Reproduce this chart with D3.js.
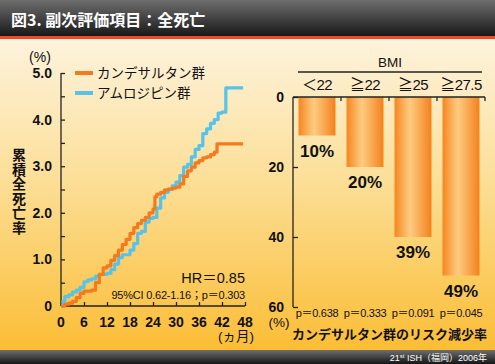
<!DOCTYPE html>
<html>
<head>
<meta charset="utf-8">
<script src="https://cdn.jsdelivr.net/npm/d3@7"></script>
<style>
  body { margin: 0; background: #fff; }
  svg { display: block; }
  text { font-family: "Liberation Sans", "Noto Sans CJK JP", sans-serif; fill: #111; }
</style>
</head>
<body>
<div id="chart"></div>
<script>
// cumulative all-cause death (%) by month
var candeMonths = [0, 1, 2, 3, 4, 5, 6, 8, 9, 10, 11, 12, 13, 14, 15, 16, 17, 18, 19, 20, 21, 22, 23, 24, 24.5, 25, 26, 27, 28, 29, 30, 31, 32, 33, 34, 35, 36, 37, 38, 39, 40, 40.7, 47.5];
var candeRate = [0, 0.04, 0.06, 0.1, 0.18, 0.27, 0.32, 0.34, 0.5, 0.68, 0.82, 0.86, 0.98, 1.08, 1.2, 1.32, 1.43, 1.56, 1.68, 1.77, 1.84, 1.9, 2.0, 2.08, 2.34, 2.4, 2.44, 2.49, 2.51, 2.53, 2.55, 2.62, 2.78, 2.9, 2.98, 3.07, 3.12, 3.18, 3.2, 3.25, 3.3, 3.48, 3.48];
var amloMonths = [0, 0.5, 1, 2, 3, 4, 5, 6, 7, 8, 9, 10, 11, 12, 13, 14, 15, 16, 17, 18, 19, 20, 21, 22, 23, 24, 25, 26, 27, 28, 29, 30, 31, 32, 33, 34, 35, 36, 37, 38, 39, 40, 41, 42, 43, 47.5];
var amloRate = [0, 0.1, 0.2, 0.24, 0.3, 0.34, 0.4, 0.52, 0.56, 0.58, 0.64, 0.68, 0.68, 0.7, 0.78, 0.9, 1.04, 1.1, 1.1, 1.2, 1.34, 1.56, 1.6, 1.8, 1.88, 1.9, 2.1, 2.32, 2.44, 2.5, 2.58, 2.66, 2.8, 2.98, 3.04, 3.2, 3.36, 3.44, 3.7, 3.8, 3.92, 4.0, 4.14, 4.16, 4.68, 4.68];
var seriesNames = ["カンデサルタン群", "アムロジピン群"];
var monthTicks = [0, 6, 12, 18, 24, 30, 36, 42, 48];
var rateTicks = [0, 1, 2, 3, 4, 5];

// risk reduction by BMI
var bmiGroups = ["＜22", "≧22", "≧25", "≧27.5"];
var reduction = [11, 20, 40, 51];
var reductionLabels = ["10%", "20%", "39%", "49%"];
var pValues = ["p＝0.638", "p＝0.333", "p＝0.091", "p＝0.045"];
var reductionTicks = [0, 20, 40, 60];

var W = 495, H = 364;
var svg = d3.select("#chart").append("svg").attr("width", W).attr("height", H);
var defs = svg.append("defs");

var bg = defs.append("linearGradient").attr("id", "bg").attr("x1", 0).attr("y1", 0).attr("x2", 0).attr("y2", 1);
bg.append("stop").attr("offset", "0%").attr("stop-color", "#fdf3dd");
bg.append("stop").attr("offset", "45%").attr("stop-color", "#fcdf98");
bg.append("stop").attr("offset", "100%").attr("stop-color", "#fbbd35");

var hd = defs.append("linearGradient").attr("id", "hd").attr("x1", 0).attr("y1", 0).attr("x2", 0).attr("y2", 1);
hd.append("stop").attr("offset", "0%").attr("stop-color", "#6e6e6e");
hd.append("stop").attr("offset", "100%").attr("stop-color", "#161616");

var bar = defs.append("linearGradient").attr("id", "bar").attr("x1", 0).attr("y1", 0).attr("x2", 1).attr("y2", 0);
bar.append("stop").attr("offset", "0%").attr("stop-color", "#f6861f");
bar.append("stop").attr("offset", "42%").attr("stop-color", "#fccc82");
bar.append("stop").attr("offset", "100%").attr("stop-color", "#f5811a");

// background, header, footer
svg.append("rect").attr("x", 0).attr("y", 38).attr("width", W).attr("height", 312).attr("fill", "url(#bg)");
svg.append("rect").attr("x", 0).attr("y", 0).attr("width", W).attr("height", 37).attr("fill", "url(#hd)");
svg.append("rect").attr("x", 0).attr("y", 36).attr("width", W).attr("height", 3).attr("fill", "#f04a25");
svg.append("rect").attr("x", 0).attr("y", 350).attr("width", W).attr("height", 14).attr("fill", "url(#hd)");

svg.append("text").attr("x", 11).attr("y", 26)
    .style("fill", "#fff").style("font-size", "16px").style("font-weight", "bold")
    .style("font-family", "'Noto Sans CJK JP', sans-serif")
    .text("図3. 副次評価項目：全死亡");

var foot = svg.append("text").attr("x", 487).attr("y", 361).attr("text-anchor", "end")
    .style("fill", "#fff").style("font-size", "9px");
foot.append("tspan").text("21");
foot.append("tspan").attr("dy", -3).style("font-size", "6px").text("st");
foot.append("tspan").attr("dy", 3).text(" ISH（福岡）2006年");

// ---- left: cumulative death line chart
var x = d3.scaleLinear().domain([0, 48]).range([61, 245]);
var y = d3.scaleLinear().domain([0, 5]).range([306, 73]);

var left = svg.append("g");

left.append("g")
    .attr("transform", "translate(61,0)")
    .call(d3.axisRight(y).tickValues(d3.range(0, 5.01, 0.5)).tickSize(4).tickFormat(""))
    .call(function(g) { g.select(".domain").attr("d", "M0,73V306"); })
    .selectAll("line,path").attr("stroke", "#222").attr("stroke-width", 1.3);

left.append("g")
    .attr("transform", "translate(0,306)")
    .call(d3.axisTop(x).tickValues(monthTicks).tickSize(4).tickFormat(""))
    .call(function(g) { g.select(".domain").attr("d", "M61,0H245"); })
    .selectAll("line,path").attr("stroke", "#222").attr("stroke-width", 1.3);

left.selectAll(".ylab").data(rateTicks).enter().append("text")
    .attr("x", 52).attr("y", function(d) { return y(d) + 5; })
    .attr("text-anchor", "end")
    .style("font-size", "14px").style("font-weight", "bold")
    .text(function(d) { return d === 0 ? "0" : d3.format(".1f")(d); });

left.selectAll(".xlab").data(monthTicks).enter().append("text")
    .attr("x", function(d) { return x(d); }).attr("y", 327)
    .attr("text-anchor", "middle")
    .style("font-size", "14px").style("font-weight", "bold")
    .text(function(d) { return d; });

left.append("text").attr("x", 40).attr("y", 62).attr("text-anchor", "middle")
    .style("font-size", "14px").text("(%)");
left.append("text").attr("x", 236).attr("y", 341).attr("text-anchor", "middle")
    .style("font-size", "13.5px").text("(ヵ月)");

left.selectAll(".ytitle").data("累積全死亡率".split("")).enter().append("text")
    .attr("x", 19).attr("y", function(d, i) { return 160 + i * 14.5; })
    .attr("text-anchor", "middle")
    .style("font-size", "14px").style("font-weight", "bold")
    .text(function(d) { return d; });

var line = d3.line()
    .x(function(d) { return x(d[0]); })
    .y(function(d) { return y(d[1]); })
    .curve(d3.curveStepAfter);

var colors = ["#f47a20", "#55c3ea"];
var series = [d3.zip(amloMonths, amloRate), d3.zip(candeMonths, candeRate)];
left.selectAll(".curve").data(series).enter().append("path")
    .attr("d", line)
    .attr("fill", "none")
    .attr("stroke", function(d, i) { return i === 0 ? colors[1] : colors[0]; })
    .attr("stroke-width", 3.2)
    .attr("stroke-linejoin", "round");

seriesNames.forEach(function(name, i) {
    var ly = 73 + i * 20;
    left.append("line").attr("x1", 75).attr("x2", 93).attr("y1", ly).attr("y2", ly)
        .attr("stroke", colors[i]).attr("stroke-width", 4);
    left.append("text").attr("x", 97).attr("y", ly + 5)
        .style("font-size", "13.5px").text(name);
});

left.append("text").attr("x", 245).attr("y", 283).attr("text-anchor", "end")
    .style("font-size", "14.5px").text("HR＝0.85");
left.append("text").attr("x", 245).attr("y", 299).attr("text-anchor", "end")
    .style("font-size", "11px").style("letter-spacing", "-0.2px").text("95%CI 0.62-1.16；p＝0.303");

// ---- right: risk reduction bars
var bx = d3.scaleBand().domain(bmiGroups).range([293, 485]).paddingInner(0.23).paddingOuter(0.115);
var by = d3.scaleLinear().domain([0, 60]).range([97, 307]);

var right = svg.append("g");

right.selectAll(".bar").data(reduction).enter().append("rect")
    .attr("x", function(d, i) { return bx(bmiGroups[i]); })
    .attr("y", by(0))
    .attr("width", bx.bandwidth())
    .attr("height", function(d) { return by(d) - by(0); })
    .attr("fill", "url(#bar)");

right.append("g")
    .attr("transform", "translate(293,0)")
    .call(d3.axisRight(by).tickValues(reductionTicks).tickSize(5).tickFormat(""))
    .call(function(g) { g.select(".domain").attr("d", "M0,97V307"); })
    .selectAll("line,path").attr("stroke", "#222").attr("stroke-width", 1.3);

right.append("g")
    .attr("transform", "translate(0,97)")
    .call(d3.axisBottom(bx).tickSize(0).tickFormat(""))
    .call(function(g) { g.select(".domain").attr("d", "M293,0H485"); })
    .selectAll("line,path").attr("stroke", "#222").attr("stroke-width", 1.3);

right.selectAll(".sep").data(bmiGroups).enter().append("line")
    .attr("x1", function(d) { return bx(d) + bx.step() * 0.885; })
    .attr("x2", function(d) { return bx(d) + bx.step() * 0.885; })
    .attr("y1", 97).attr("y2", 101)
    .attr("stroke", "#222").attr("stroke-width", 1.3);

right.selectAll(".rylab").data(reductionTicks).enter().append("text")
    .attr("x", 284).attr("y", function(d) { return by(d) + 5; })
    .attr("text-anchor", "end")
    .style("font-size", "14px").style("font-weight", "bold")
    .text(function(d) { return d; });

right.append("text").attr("x", 279).attr("y", 327).attr("text-anchor", "middle")
    .style("font-size", "13.5px").text("(%)");

right.selectAll(".cat").data(bmiGroups).enter().append("text")
    .attr("x", function(d) { return bx(d) + bx.bandwidth() / 2; }).attr("y", 90)
    .attr("text-anchor", "middle")
    .style("font-size", "15px").style("letter-spacing", "-0.5px")
    .text(function(d) { return d; });

right.append("text").attr("x", 390).attr("y", 67).attr("text-anchor", "middle")
    .style("font-size", "13.5px").text("BMI");
right.append("line").attr("x1", 298).attr("x2", 482).attr("y1", 72).attr("y2", 72)
    .attr("stroke", "#222").attr("stroke-width", 1.3);

right.selectAll(".val").data(reduction).enter().append("text")
    .attr("x", function(d, i) { return bx(bmiGroups[i]) + bx.bandwidth() / 2; })
    .attr("y", function(d) { return by(d) + 21; })
    .attr("text-anchor", "middle")
    .style("font-size", "17px").style("font-weight", "bold")
    .text(function(d, i) { return reductionLabels[i]; });

right.selectAll(".pv").data(pValues).enter().append("text")
    .attr("x", function(d, i) { return bx(bmiGroups[i]) + bx.bandwidth() / 2; }).attr("y", 317)
    .attr("text-anchor", "middle")
    .style("font-size", "11px").style("letter-spacing", "-0.3px")
    .text(function(d) { return d; });

right.append("text").attr("x", 487).attr("y", 339).attr("text-anchor", "end")
    .style("font-size", "13px").style("font-weight", "bold")
    .style("font-family", "'Noto Sans CJK JP', sans-serif")
    .text("カンデサルタン群のリスク減少率");
</script>
</body>
</html>
